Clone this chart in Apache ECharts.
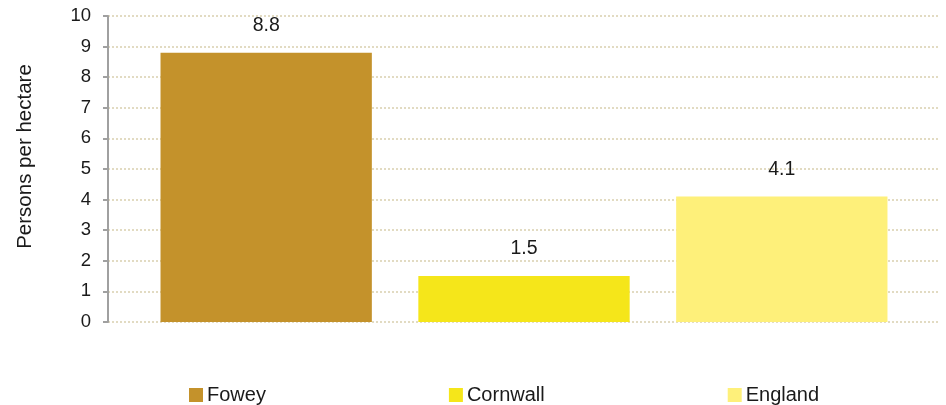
<!DOCTYPE html>
<html>
<head>
<meta charset="utf-8">
<script src="https://cdn.jsdelivr.net/npm/echarts@6/dist/echarts.min.js"></script>
<style>html,body{margin:0;padding:0;background:#fff}#c{width:946px;height:405px}</style>
</head>
<body>
<div id="c"></div>
<script>
var categories = [''];
var seriesNames = ['Fowey', 'Cornwall', 'England'];
var foweyValues = [8.8];
var cornwallValues = [1.5];
var englandValues = [4.1];
var yTicks = [0, 1, 2, 3, 4, 5, 6, 7, 8, 9, 10];
var colors = ['#C4922B', '#F5E61A', '#FEF07A'];
var values = [foweyValues, cornwallValues, englandValues];

var chart = echarts.init(document.getElementById('c'));
var font = 'Liberation Sans, Arial, sans-serif';
var series = seriesNames.map(function (n, i) {
  return {
    name: n, type: 'bar', data: values[i],
    barWidth: '25.4%', barGap: '22%',
    itemStyle: { color: colors[i] },
    label: { show: true, position: 'top', distance: 17, color: '#1a1a1a', fontSize: 19.5, fontFamily: font, formatter: function (p) { return p.value.toFixed(1); } }
  };
});
chart.setOption({
  animation: false,
  textStyle: { fontFamily: font },
  grid: { left: 108, right: 6, top: 16, bottom: 83 },
  legend: {
    data: seriesNames, left: 189, top: 385, padding: 0, itemWidth: 14, itemHeight: 14, itemGap: 183,
    icon: 'rect', textStyle: { fontSize: 20, color: '#1a1a1a', fontFamily: font, padding: [0, 0, 0, -1], lineHeight: 16 }
  },
  xAxis: {
    type: 'category', data: categories,
    axisLine: { show: false }, axisTick: { show: false }, axisLabel: { show: false }
  },
  yAxis: {
    type: 'value', min: yTicks[0], max: yTicks[yTicks.length - 1], interval: 1,
    name: 'Persons per hectare', nameLocation: 'middle', nameGap: 72,
    nameTextStyle: { fontSize: 20.5, color: '#1a1a1a', fontFamily: font, padding: [0, 0, 0, 25] },
    axisLine: { show: true, lineStyle: { color: '#a0a0a0', width: 2 } },
    axisTick: { show: true, length: 5, lineStyle: { color: '#a0a0a0', width: 2 } },
    axisLabel: { fontSize: 18.5, color: '#1a1a1a', margin: 17, fontFamily: font },
    splitLine: { show: true, lineStyle: { color: '#d9cfae', type: [2, 2], width: 1.5 } }
  },
  series: series
});
</script>
</body>
</html>
